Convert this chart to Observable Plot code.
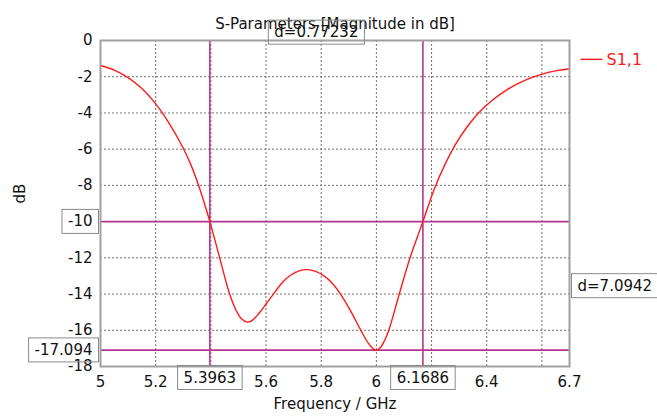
<!DOCTYPE html>
<html>
<head>
<meta charset="utf-8">
<script src="https://cdn.jsdelivr.net/npm/d3@7"></script>
<script src="https://cdn.jsdelivr.net/npm/@observablehq/plot@0.6"></script>
<style>
  html, body { margin: 0; padding: 0; background: #fff; }
</style>
</head>
<body>
<div id="chart"></div>
<script>
// S1,1 magnitude (dB) vs frequency (GHz)
const freq = [5.00, 5.05, 5.10, 5.15, 5.20, 5.25, 5.30, 5.33, 5.36, 5.3963, 5.432, 5.468, 5.49, 5.51, 5.531, 5.55, 5.575, 5.60, 5.634, 5.66, 5.69, 5.72, 5.75, 5.78, 5.81, 5.84, 5.87, 5.90, 5.942, 5.97, 5.99, 6.00, 6.015, 6.03, 6.045, 6.082, 6.122, 6.1686, 6.21, 6.25, 6.29, 6.33, 6.37, 6.42, 6.47, 6.52, 6.57, 6.62, 6.66, 6.70];
const s11  = [-1.38, -1.63, -2.05, -2.65, -3.5, -4.6, -5.95, -6.95, -8.2, -10.0, -12.0, -14.0, -14.85, -15.35, -15.55, -15.45, -15.05, -14.55, -13.85, -13.35, -12.95, -12.72, -12.65, -12.75, -13.0, -13.4, -14.0, -14.75, -15.95, -16.7, -17.05, -17.094, -16.95, -16.55, -16.0, -14.05, -12.0, -10.0, -8.2, -6.8, -5.65, -4.75, -4.0, -3.3, -2.75, -2.33, -2.01, -1.77, -1.65, -1.56];

const markerFreq = [5.3963, 6.1686];
const markerFreqLabels = ["5.3963", "6.1686"];
const markerDb = [-10, -17.094];
const markerDbLabels = ["-10", "-17.094"];
const deltaFreqLabel = "d=0.77232";
const deltaDbLabel = "d=7.0942";

const xTickValues = [5, 5.2, 5.6, 5.8, 6, 6.4, 6.7];
const yTickValues = [0, -2, -4, -6, -8, -12, -14, -16, -18];
const xGridValues = [5.2, 5.4, 5.6, 5.8, 6.0, 6.2, 6.4, 6.6];
const yGridValues = [-2, -4, -6, -8, -10, -12, -14, -16];

const seriesName = "S1,1";
const titleText = "S-Parameters [Magnitude in dB]";
const xLabel = "Frequency / GHz";
const yLabel = "dB";

const data = freq.map((f, i) => ({f, db: s11[i]}));
const curveColor = "#ff1a1a";
const markerColor = "#b4358f";
const gridStyle = {stroke: "#707070", strokeOpacity: 1, strokeDasharray: "2,2", strokeWidth: 1};

const plot = Plot.plot({
  width: 657,
  height: 417,
  marginLeft: 100,
  marginRight: 88,
  marginTop: 40,
  marginBottom: 51,
  style: {fontFamily: "DejaVu Sans, Verdana, sans-serif", fontSize: "15px", background: "#fff", color: "#111"},
  x: {domain: [5, 6.7]},
  y: {domain: [-18, 0]},
  marks: [
    Plot.gridX(xGridValues, gridStyle),
    Plot.gridY(yGridValues, gridStyle),
    Plot.ruleX(markerFreq, {x: d => d, stroke: markerColor, strokeWidth: 1.6}),
    Plot.ruleY(markerDb, {y: d => d, stroke: markerColor, strokeWidth: 1.6}),
    Plot.line(data, {x: "f", y: "db", stroke: curveColor, strokeWidth: 1.4, curve: "catmull-rom"}),
    Plot.frame({stroke: "#a0a0a0", strokeWidth: 2}),
    Plot.axisX(xTickValues, {tickSize: 0, tickPadding: 10, tickFormat: d => String(d), label: null, fill: "#111"}),
    Plot.axisY(yTickValues, {tickSize: 0, tickPadding: 8, tickFormat: d => String(d), label: null, fill: "#111"}),
    // title & axis labels
    Plot.text([titleText], {frameAnchor: "top", dy: -22, text: d => d, fill: "#111", fontSize: 15}),
    Plot.text([xLabel], {frameAnchor: "bottom", dy: 42, text: d => d, fill: "#111", fontSize: 15}),
    Plot.text([yLabel], {frameAnchor: "left", dx: -80, rotate: -90, text: d => d, fill: "#111", fontSize: 15}),
    // legend text (its line sample is added next to it below)
    Plot.text([seriesName], {frameAnchor: "top-right", dx: 37, dy: 13, textAnchor: "start", text: d => d, fill: curveColor, fontSize: 16}),
    // boxed marker labels
    Plot.text(markerFreq, {x: d => d, frameAnchor: "bottom", dy: 16, text: (d, i) => markerFreqLabels[i], fill: "#111"}),
    Plot.text(markerDb, {y: d => d, frameAnchor: "left", dx: -8, textAnchor: "end", text: (d, i) => markerDbLabels[i], fill: "#111"}),
    Plot.text([deltaFreqLabel], {x: () => (markerFreq[0] + markerFreq[1]) / 2, frameAnchor: "top", dy: -14, text: d => d, fill: "#111"}),
    Plot.text([deltaDbLabel], {y: () => (markerDb[0] + markerDb[1]) / 2, frameAnchor: "right", dx: 8, textAnchor: "start", text: d => d, fill: "#111"})
  ]
});

document.getElementById("chart").appendChild(plot);

const NS = "http://www.w3.org/2000/svg";
const boxedTexts = new Set([...markerFreqLabels, ...markerDbLabels, deltaFreqLabel, deltaDbLabel]);

plot.querySelectorAll("text").forEach(function(el) {
  const label = el.textContent;
  const grp = el.parentNode;
  const isAxis = grp && /tick/.test(grp.getAttribute("aria-label") || "");
  const t = el.getAttribute("transform");
  if (boxedTexts.has(label) && !isAxis) {
    const b = el.getBBox();
    const padX = 6, padY = 3;
    const r = document.createElementNS(NS, "rect");
    r.setAttribute("x", b.x - padX);
    r.setAttribute("y", b.y - padY);
    r.setAttribute("width", b.width + 2 * padX);
    r.setAttribute("height", b.height + 2 * padY);
    r.setAttribute("fill", "none");
    r.setAttribute("stroke", "#8a8a8a");
    r.setAttribute("stroke-width", "1");
    if (t) r.setAttribute("transform", t);
    grp.insertBefore(r, el);
  } else if (label === seriesName) {
    const b = el.getBBox();
    const ln = document.createElementNS(NS, "line");
    const yMid = b.y + b.height / 2;
    ln.setAttribute("x1", b.x - 26);
    ln.setAttribute("x2", b.x - 4);
    ln.setAttribute("y1", yMid);
    ln.setAttribute("y2", yMid);
    ln.setAttribute("stroke", curveColor);
    ln.setAttribute("stroke-width", "1.4");
    if (t) ln.setAttribute("transform", t);
    grp.insertBefore(ln, el);
  }
});
</script>
</body>
</html>
